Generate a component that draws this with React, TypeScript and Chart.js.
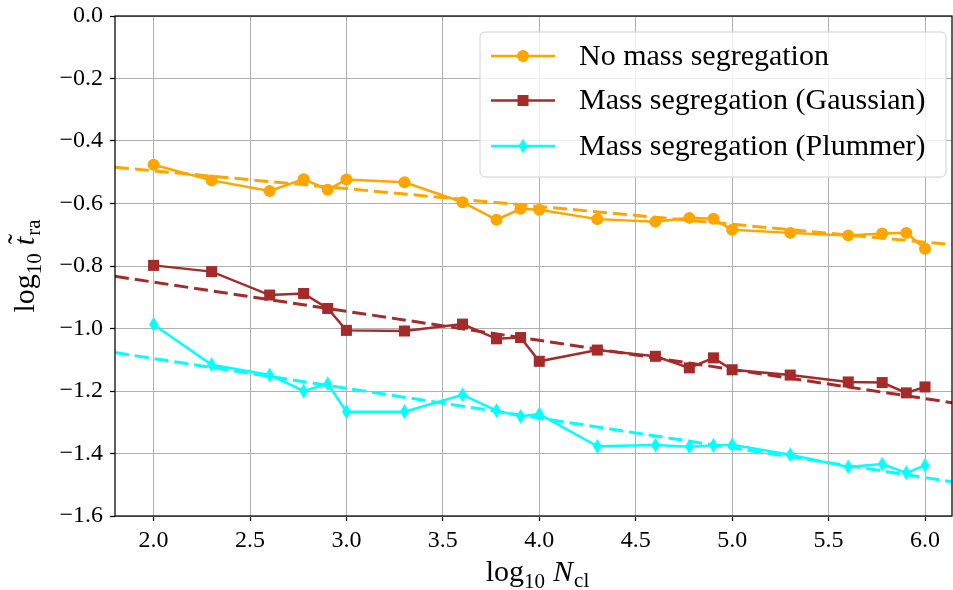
import React, { useEffect, useRef } from 'react';
import { Chart, registerables } from 'chart.js';

Chart.register(...registerables);

// log10 of cluster particle number
const logN = [2.0, 2.301, 2.602, 2.778, 2.903, 3.0, 3.301, 3.602, 3.778, 3.903, 4.0,
  4.301, 4.602, 4.778, 4.903, 5.0, 5.301, 5.602, 5.778, 5.903, 6.0];

// log10 of the scaled time to reach the attractor
const noSegregation = [-0.476, -0.526, -0.560, -0.522, -0.556, -0.523, -0.532, -0.596, -0.652, -0.617, -0.620,
  -0.650, -0.658, -0.646, -0.649, -0.684, -0.694, -0.702, -0.696, -0.694, -0.745];
const segGaussian = [-0.798, -0.818, -0.893, -0.888, -0.936, -1.006, -1.008, -0.986, -1.033, -1.029, -1.105,
  -1.069, -1.089, -1.126, -1.094, -1.132, -1.149, -1.171, -1.173, -1.206, -1.187];
const segPlummer = [-0.987, -1.116, -1.149, -1.200, -1.177, -1.266, -1.266, -1.212, -1.263, -1.281, -1.274,
  -1.377, -1.373, -1.378, -1.374, -1.372, -1.404, -1.443, -1.434, -1.462, -1.438];

// linear fits, given by their end points
const fitX = [1.8, 6.2];
const noSegregationFit = [-0.484, -0.735];
const segGaussianFit = [-0.833, -1.243];
const segPlummerFit = [-1.077, -1.496];

const xTicks = [2.0, 2.5, 3.0, 3.5, 4.0, 4.5, 5.0, 5.5, 6.0];
const yTicks = [0.0, -0.2, -0.4, -0.6, -0.8, -1.0, -1.2, -1.4, -1.6];

const seriesLabels = ['No mass segregation', 'Mass segregation (Gaussian)', 'Mass segregation (Plummer)'];

const ORANGE = '#FFA500';
const BROWN = '#A52A2A';
const CYAN = '#00FFFF';
const SERIF = "'Liberation Serif', 'Times New Roman', serif";

function thinDiamond(color: string, w: number, h: number): HTMLCanvasElement {
  const c = document.createElement('canvas');
  c.width = w;
  c.height = h;
  const g = c.getContext('2d')!;
  g.fillStyle = color;
  g.beginPath();
  g.moveTo(w / 2, 0);
  g.lineTo(w, h / 2);
  g.lineTo(w / 2, h);
  g.lineTo(0, h / 2);
  g.closePath();
  g.fill();
  return c;
}

type Run = { text: string; font: string; dy: number; gap?: number; tilde?: boolean };

function runsWidth(ctx: CanvasRenderingContext2D, runs: Run[]) {
  let w = 0;
  for (const r of runs) {
    ctx.font = r.font;
    w += ctx.measureText(r.text).width + (r.gap || 0);
  }
  return w;
}

function drawRuns(ctx: CanvasRenderingContext2D, runs: Run[], cx: number, baseY: number) {
  let x = cx - runsWidth(ctx, runs) / 2;
  ctx.textBaseline = 'alphabetic';
  ctx.textAlign = 'left';
  ctx.fillStyle = '#000';
  for (const r of runs) {
    ctx.font = r.font;
    const w = ctx.measureText(r.text).width;
    ctx.fillText(r.text, x, baseY + r.dy);
    if (r.tilde) {
      ctx.font = `30px ${SERIF}`;
      const tw = ctx.measureText('\u02DC').width;
      ctx.fillText('\u02DC', x + w / 2 - tw / 2 + 2, baseY + r.dy - 6);
    }
    x += w + (r.gap || 0);
  }
}

const xTitle: Run[] = [
  { text: 'log', font: `30px ${SERIF}`, dy: 0 },
  { text: '10', font: `21px ${SERIF}`, dy: 7, gap: 8 },
  { text: 'N', font: `italic 30px ${SERIF}`, dy: 0, gap: 1 },
  { text: 'cl', font: `21px ${SERIF}`, dy: 6 },
];

const yTitle: Run[] = [
  { text: 'log', font: `30px ${SERIF}`, dy: 0 },
  { text: '10', font: `21px ${SERIF}`, dy: 7, gap: 8 },
  { text: 't', font: `italic 30px ${SERIF}`, dy: 0, gap: 1, tilde: true },
  { text: 'ra', font: `21px ${SERIF}`, dy: 6 },
];

const frameAndTitles = {
  id: 'frameAndTitles',
  afterDraw(chart: any) {
    const ctx: CanvasRenderingContext2D = chart.ctx;
    const a = chart.chartArea;
    ctx.save();
    ctx.strokeStyle = '#000';
    ctx.lineWidth = 1.25;
    ctx.strokeRect(a.left, a.top, a.right - a.left, a.bottom - a.top);
    drawRuns(ctx, xTitle, (a.left + a.right) / 2 + 4, 581);
    ctx.translate(34, (a.top + a.bottom) / 2);
    ctx.rotate(-Math.PI / 2);
    drawRuns(ctx, yTitle, 0, 0);
    ctx.restore();
  },
};

function makeLegendPlugin(diamond: HTMLCanvasElement) {
  return {
    id: 'boxLegend',
    afterDraw(chart: any) {
      const ctx: CanvasRenderingContext2D = chart.ctx;
      const left = 480, top = 32, right = 946, bottom = 177, rad = 5;
      ctx.save();
      ctx.beginPath();
      ctx.moveTo(left + rad, top);
      ctx.arcTo(right, top, right, bottom, rad);
      ctx.arcTo(right, bottom, left, bottom, rad);
      ctx.arcTo(left, bottom, left, top, rad);
      ctx.arcTo(left, top, right, top, rad);
      ctx.closePath();
      ctx.fillStyle = 'rgba(255,255,255,0.8)';
      ctx.fill();
      ctx.strokeStyle = '#d0d0d0';
      ctx.lineWidth = 1;
      ctx.stroke();

      const rows = [56, 100.5, 146];
      const colors = [ORANGE, BROWN, CYAN];
      rows.forEach((y, i) => {
        ctx.strokeStyle = colors[i];
        ctx.lineWidth = 2.5;
        ctx.beginPath();
        ctx.moveTo(491, y);
        ctx.lineTo(555, y);
        ctx.stroke();
        ctx.fillStyle = colors[i];
        if (i === 0) {
          ctx.beginPath();
          ctx.arc(523, y, 6, 0, Math.PI * 2);
          ctx.fill();
        } else if (i === 1) {
          ctx.fillRect(523 - 5.5, y - 5.5, 11, 11);
        } else {
          ctx.drawImage(diamond, 523 - diamond.width / 2, y - diamond.height / 2);
        }
        ctx.fillStyle = '#000';
        ctx.font = `30px ${SERIF}`;
        ctx.textBaseline = 'middle';
        ctx.textAlign = 'left';
        ctx.fillText(seriesLabels[i], 579, y + 1);
      });
      ctx.restore();
    },
  };
}

const fmt = (v: number) => (Math.abs(v) < 1e-9 ? '0.0' : v.toFixed(1).replace('-', '\u2212'));

export default function App() {
  const ref = useRef<HTMLCanvasElement | null>(null);

  useEffect(() => {
    if (!ref.current) return;
    const diamond = thinDiamond(CYAN, 9, 15);
    const pts = (ys: number[]) => logN.map((x, i) => ({ x, y: ys[i] }));
    const fit = (ys: number[]) => fitX.map((x, i) => ({ x, y: ys[i] }));
    const dataLine = (data: any, color: string, style: any, radius: number) => ({
      data,
      borderColor: color,
      backgroundColor: color,
      borderWidth: 2.5,
      pointStyle: style,
      pointRadius: radius,
      pointBackgroundColor: color,
      pointBorderWidth: 0,
      fill: false,
      tension: 0,
    });
    const fitLine = (data: any, color: string) => ({
      data,
      borderColor: color,
      borderWidth: 3,
      borderDash: [14, 6],
      pointRadius: 0,
      fill: false,
      tension: 0,
    });

    const grid = {
      color: '#b0b0b0',
      lineWidth: 1,
      drawTicks: true,
      tickLength: 5,
      tickColor: '#000',
      tickWidth: 1.25,
    };

    const chart = new Chart(ref.current, {
      type: 'line',
      data: {
        datasets: [
          dataLine(pts(noSegregation), ORANGE, 'circle', 6),
          fitLine(fit(noSegregationFit), ORANGE),
          dataLine(pts(segGaussian), BROWN, 'rect', 7.8),
          fitLine(fit(segGaussianFit), BROWN),
          dataLine(pts(segPlummer), CYAN, diamond, 6),
          fitLine(fit(segPlummerFit), CYAN),
        ] as any,
      },
      options: {
        responsive: false,
        devicePixelRatio: 1,
        animation: false,
        layout: { autoPadding: false, padding: { top: 16, right: 1, left: 0, bottom: 0 } },
        plugins: { legend: { display: false }, tooltip: { enabled: false } },
        scales: {
          x: {
            type: 'linear',
            min: 1.8,
            max: 6.14,
            grid,
            border: { display: false },
            afterBuildTicks: (s: any) => { s.ticks = xTicks.map((v) => ({ value: v })); },
            afterFit: (s: any) => { s.height = 74; s.paddingLeft = 0; s.paddingRight = 0; },
            ticks: {
              color: '#000',
              font: { family: SERIF, size: 24 },
              padding: 5,
              maxRotation: 0,
              callback: (v: any) => fmt(Number(v)),
            },
          },
          y: {
            type: 'linear',
            min: -1.6,
            max: 0,
            grid,
            border: { display: false },
            afterBuildTicks: (s: any) => { s.ticks = yTicks.map((v) => ({ value: v })); },
            afterFit: (s: any) => { s.width = 115; s.paddingTop = 0; s.paddingBottom = 0; },
            ticks: {
              color: '#000',
              font: { family: SERIF, size: 24 },
              padding: 7,
              callback: (v: any) => fmt(Number(v)),
            },
          },
        },
      } as any,
      plugins: [frameAndTitles, makeLegendPlugin(diamond)],
    });
    return () => chart.destroy();
  }, []);

  return (
    <div style={{ position: 'absolute', left: 0, top: 0, width: 953, height: 590, background: '#fff' }}>
      <canvas ref={ref} width={953} height={590} style={{ width: 953, height: 590, display: 'block' }} />
    </div>
  );
}
